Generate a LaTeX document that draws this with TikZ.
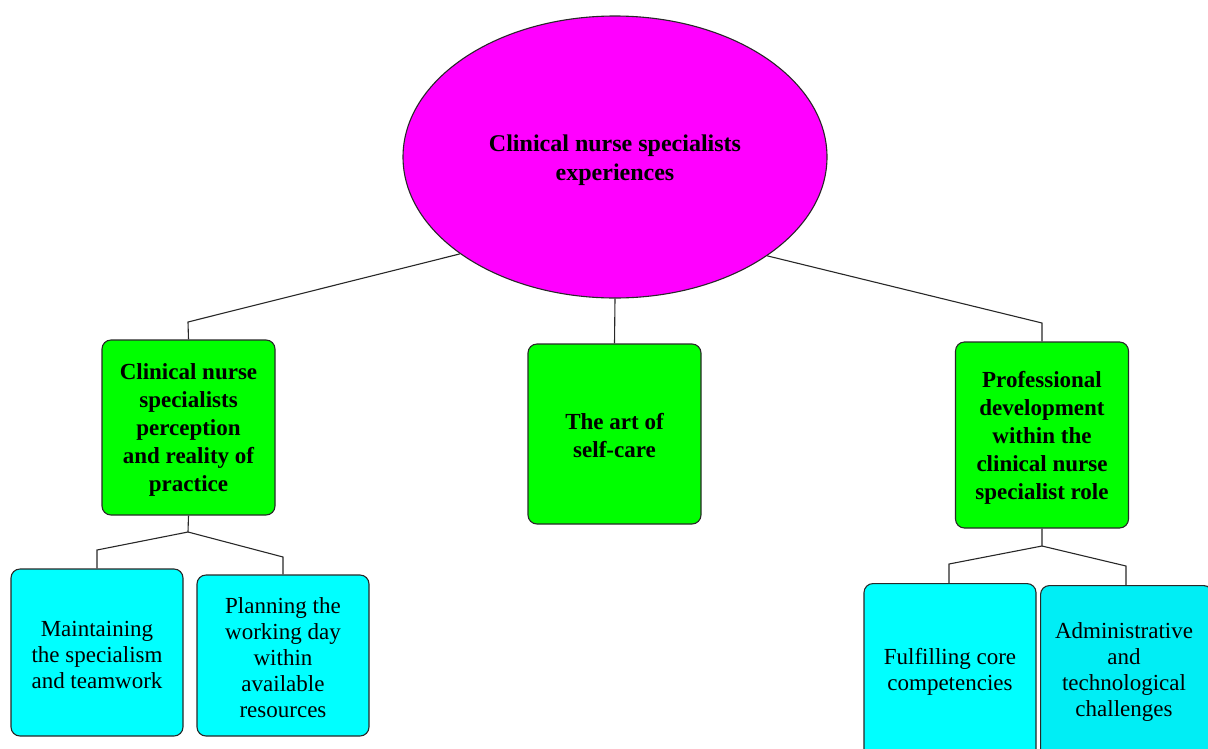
\documentclass[tikz,border=0pt]{standalone}
\usepackage{fontspec}
\setmainfont{Liberation Serif}
\usetikzlibrary{shapes.geometric}
\definecolor{rootfill}{RGB}{255,0,255}
\definecolor{themefill}{RGB}{0,255,0}
\definecolor{subfill}{RGB}{0,255,255}
\definecolor{subfilltwo}{RGB}{0,238,245}
\definecolor{edge}{RGB}{40,40,40}
\tikzset{
  rootnode/.style={ellipse, draw=edge, line width=1.1pt, fill=rootfill,
    minimum width=424pt, minimum height=282pt, inner sep=0pt,
    align=center, font=\fontsize{24}{29}\selectfont\bfseries},
  theme/.style={draw=edge, line width=1.1pt, fill=themefill, rounded corners=9pt,
    inner sep=0pt, minimum width=173pt, align=center,
    font=\fontsize{23}{28}\selectfont\bfseries},
  sub/.style={draw=edge, line width=1.1pt, fill=subfill, rounded corners=9pt,
    inner sep=0pt, minimum width=172pt, align=center,
    font=\fontsize{23}{26}\selectfont},
  subtext/.style={align=center, inner sep=0pt, font=\fontsize{23}{26}\selectfont},
  link/.style={draw=edge, line width=1.1pt},
}
\begin{document}
\begin{tikzpicture}[x=1pt,y=-1pt]
  \useasboundingbox (0,0) rectangle (1208,748);
  \clip (0,0) rectangle (1208,748);

  % root
  \node[rootnode] (root) at (615,157) {};
  \node[font=\fontsize{24}{29}\selectfont\bfseries, align=center] (roottext)
    at (615,160) {Clinical nurse specialists\\experiences};

  % themes
  \node[theme, minimum height=175pt] (t1) at (188.5,427.5) {};
  \node[theme, draw=none, fill=none] (t1text) at (188.5,430)
    {Clinical nurse\\specialists\\perception\\and reality of\\practice};
  \node[theme, minimum height=180pt] (t2) at (614.5,434) {};
  \node[theme, draw=none, fill=none] (t2text) at (614.5,436)
    {The art of\\self-care};
  \node[theme, minimum height=186pt] (t3) at (1042,435) {};
  \node[theme, draw=none, fill=none] (t3text) at (1042,438)
    {Professional\\development\\within the\\clinical nurse\\specialist role};

  % sub-themes
  \node[sub, minimum height=167pt] (s1) at (97,652.5) {};
  \node[subtext] (s1text) at (97,655) {Maintaining\\the specialism\\and teamwork};
  \node[sub, minimum height=161pt] (s2) at (283,655.5) {};
  \node[subtext] (s2text) at (283,658) {Planning the\\working day\\within\\available\\resources};
  \node[sub, minimum height=200pt, anchor=north] (s3) at (950,583) {};
  \node[subtext] (s3text) at (950,672) {Fulfilling core\\competencies};
  \node[sub, fill=subfilltwo, minimum height=200pt, anchor=north west] (s4) at (1040,585) {};
  \node[subtext] (s4text) at (1124,672) {Administrative\\and\\technological\\challenges};

  % bend points
  \coordinate (b1) at (188,322);
  \coordinate (b3) at (1042,323);
  \coordinate (j1) at (188,532);
  \coordinate (c1) at (97,550);
  \coordinate (c2) at (283,557);
  \coordinate (j3) at (1042,546);
  \coordinate (c3) at (949,564);
  \coordinate (c4) at (1126,566);

  % connectors
  \draw[link] (root.212) -- (b1) -- (t1.north);
  \draw[link] (root.south) -- (t2.north);
  \draw[link] (root.327) -- (b3) -- (t3.north);
  \draw[link] (t1.south) -- (j1) -- (c1) -- (s1.north);
  \draw[link] (j1) -- (c2) -- (s2.north);
  \draw[link] (t3.south) -- (j3) -- (c3) -- (c3 |- s3.north);
  \draw[link] (j3) -- (c4) -- (c4 |- s4.north);
\end{tikzpicture}
\end{document}
